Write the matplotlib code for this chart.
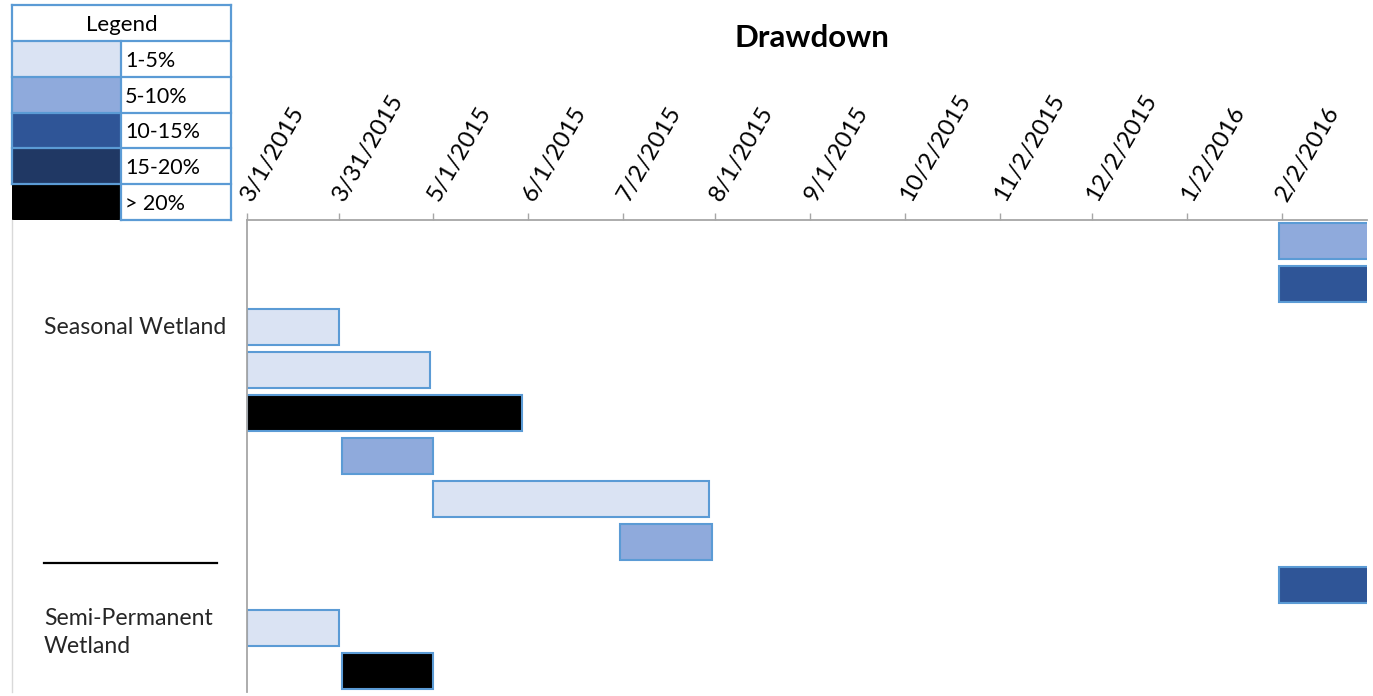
import datetime as dt
import matplotlib
matplotlib.use("Agg")
import matplotlib.pyplot as plt
import matplotlib.dates as mdates
from matplotlib.patches import Rectangle
from matplotlib.transforms import blended_transform_factory

plt.rcParams["font.family"] = ["Lato", "DejaVu Sans"]

# ---- data ----
bar_starts = ["2/1/2016", "2/1/2016", "3/1/2015", "3/1/2015", "3/1/2015", "4/1/2015",
              "5/1/2015", "7/1/2015", "2/1/2016", "3/1/2015", "4/1/2015"]
bar_ends = ["3/31/2016", "3/31/2016", "3/31/2015", "4/30/2015", "5/30/2015", "5/1/2015",
            "7/30/2015", "7/31/2015", "3/31/2016", "3/31/2015", "5/1/2015"]
bar_levels = ["5-10%", "10-15%", "1-5%", "1-5%", "> 20%", "5-10%",
              "1-5%", "5-10%", "10-15%", "1-5%", "> 20%"]

tick_dates = ["3/1/2015", "3/31/2015", "5/1/2015", "6/1/2015", "7/2/2015", "8/1/2015",
              "9/1/2015", "10/2/2015", "11/2/2015", "12/2/2015", "1/2/2016", "2/2/2016"]
axis_range = ["3/1/2015", "3/1/2016"]

legend_labels = ["1-5%", "5-10%", "10-15%", "15-20%", "> 20%"]
legend_colors = ["#DAE3F3", "#8FAADC", "#2F5597", "#203864", "#000000"]

group_labels = ["Seasonal Wetland", "Semi-Permanent\nWetland"]
group_rows = [2, 9.12]
divider_row = 7.5


def to_num(s):
    return mdates.date2num(dt.datetime.strptime(s, "%m/%d/%Y"))


W, H = 1373, 696
fig = plt.figure(figsize=(W / 100, H / 100), dpi=100)

ax_left, ax_right, ax_top, ax_bot = 246.7, 1367.5, 220, 692
ax = fig.add_axes([ax_left / W, 1 - ax_bot / H, (ax_right - ax_left) / W, (ax_bot - ax_top) / H])

color_of = dict(zip(legend_labels, legend_colors))
edge = "#5B9BD5"
for i, (s, e, lv) in enumerate(zip(bar_starts, bar_ends, bar_levels)):
    x0, x1 = to_num(s), to_num(e)
    ax.barh(i, x1 - x0, left=x0, height=0.84, color=color_of[lv],
            edgecolor=edge, linewidth=1.5)

n = len(bar_starts)
ax.set_ylim(n - 0.5, -0.5)
ax.set_xlim(to_num(axis_range[0]), to_num(axis_range[1]))

ax.xaxis.tick_top()
ax.set_xticks([to_num(t) for t in tick_dates])
ax.set_xticklabels(tick_dates, rotation=60, ha="left", va="center",
                   rotation_mode="anchor", fontsize=17.3)
ax.tick_params(axis="x", direction="out", length=5, width=1, color="#A6A6A6",
               pad=10, labelcolor="#000000")
ax.set_yticks([])
for side in ("right", "bottom"):
    ax.spines[side].set_visible(False)
for side in ("top", "left"):
    ax.spines[side].set_color("#A6A6A6")
    ax.spines[side].set_linewidth(1.3)

# group labels and divider on the left
bt = blended_transform_factory(fig.transFigure, ax.transData)
for lab, r in zip(group_labels, group_rows):
    fig.text(44 / W, r, lab, transform=bt, ha="left", va="center",
             fontsize=16.6, color="#262626", linespacing=1.42)
ax.plot([44 / W, 217 / W], [divider_row, divider_row], transform=bt,
        color="black", lw=1.6, clip_on=False)

# title
fig.text(812 / W, 1 - 38 / H, "Drawdown", ha="center", va="center",
         fontsize=22.5, fontweight="bold", color="#000000")

# overlay in pixel coordinates for the legend table and frame line
ov = fig.add_axes([0, 0, 1, 1], facecolor="none")
ov.set_xlim(0, W)
ov.set_ylim(H, 0)
ov.axis("off")

ov.plot([12, 12], [220, 692], color="#D9D9D9", lw=1)

xs = [12, 121, 231]
ys = [5, 41, 77, 113, 148, 184, 220]
for k, (lab, col) in enumerate(zip(legend_labels, legend_colors)):
    y0, y1 = ys[k + 1], ys[k + 2]
    ov.add_patch(Rectangle((xs[0], y0), xs[1] - xs[0], y1 - y0, facecolor=col,
                           edgecolor="none"))
    ov.text(xs[1] + 4, (y0 + y1) / 2 + 2, lab, ha="left", va="center",
            fontsize=15.5, color="#000000")
ov.text((xs[0] + xs[2]) / 2, (ys[0] + ys[1]) / 2 + 2, "Legend", ha="center",
        va="center", fontsize=16, color="#000000")

lw = 1.6
for y in ys[:-1]:
    ov.plot([xs[0], xs[2]], [y, y], color=edge, lw=lw, solid_capstyle="projecting")
ov.plot([xs[1], xs[2]], [ys[-1], ys[-1]], color=edge, lw=lw)
ov.plot([xs[0], xs[0]], [ys[0], ys[-2]], color=edge, lw=lw)
ov.plot([xs[2], xs[2]], [ys[0], ys[-1]], color=edge, lw=lw)
ov.plot([xs[1], xs[1]], [ys[1], ys[-1]], color=edge, lw=lw)

fig.savefig("out.png", dpi=100, facecolor="white")
